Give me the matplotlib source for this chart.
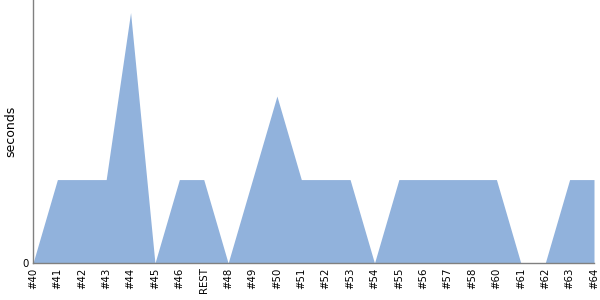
import matplotlib
matplotlib.use("Agg")
import matplotlib.pyplot as plt

categories = ["#40", "#41", "#42", "#43", "#44", "#45", "#46", "REST", "#48", "#49",
              "#50", "#51", "#52", "#53", "#54", "#55", "#56", "#57", "#58", "#60",
              "#61", "#62", "#63", "#64"]
seconds = [0, 1, 1, 1, 3, 0, 1, 1, 0, 1,
           2, 1, 1, 1, 0, 1, 1, 1, 1, 1,
           0, 0, 1, 1]

plt.rcParams['font.family'] = ['DejaVu Sans']
fig = plt.figure(figsize=(6, 3), dpi=100)
ax = fig.add_axes([0.055, 0.123, 0.935, 0.877])
x = list(range(len(categories)))
ax.fill_between(x, seconds, 0, color='#91b2dc', linewidth=0)
ax.set_xlim(0, len(categories) - 1)
ax.set_ylim(0, 3.15)
ax.set_xticks(x)
ax.set_xticklabels(categories, rotation=90, fontsize=7.3)
ax.set_yticks([0])
ax.set_yticklabels(["0"], fontsize=7.3)
ax.tick_params(length=0, pad=3)
ax.set_ylabel("seconds", fontsize=9)
for s in ['top', 'right']:
    ax.spines[s].set_visible(False)
for s in ['left', 'bottom']:
    ax.spines[s].set_color('#808080')
    ax.spines[s].set_linewidth(1)
fig.savefig("out.png", dpi=100)
